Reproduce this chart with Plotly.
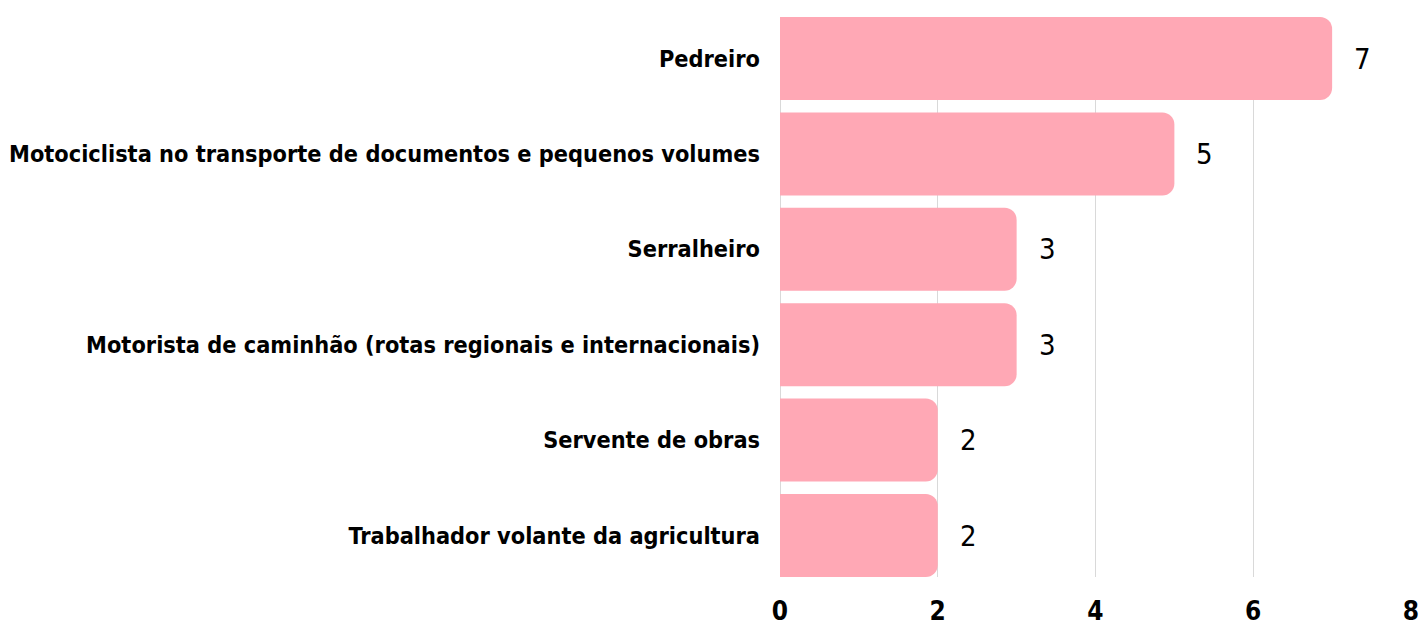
import plotly.graph_objects as go

categories = [
    "Pedreiro",
    "Motociclista no transporte de documentos e pequenos volumes",
    "Serralheiro",
    "Motorista de caminhão (rotas regionais e internacionais)",
    "Servente de obras",
    "Trabalhador volante da agricultura",
]
values = [7, 5, 3, 3, 2, 2]
tick_vals = [0, 2, 4, 6, 8]

FONT = "Liberation Sans Narrow, DejaVu Sans Condensed, Arial Narrow, sans-serif"
BAR = "#FFA8B5"
GAP = 0.13

fig = go.Figure(
    go.Bar(
        x=values,
        y=categories,
        orientation="h",
        marker=dict(color=BAR, line=dict(width=0)),
        width=1 - GAP,
        hoverinfo="skip",
    )
)

for c, v in zip(categories, values):
    fig.add_annotation(
        x=v, y=c, text=str(v), showarrow=False, xanchor="left", xshift=20,
        font=dict(family=FONT, size=29, color="#000000"),
    )

fig.update_layout(
    width=1422, height=626,
    margin=dict(l=780, r=11, t=17, b=49),
    paper_bgcolor="white", plot_bgcolor="white",
    barcornerradius=12,
    showlegend=False,
    font=dict(family=FONT),
)
fig.update_xaxes(
    range=[0, 8], tickvals=tick_vals, showgrid=True, gridcolor="#D9D9D9", gridwidth=1,
    zeroline=True, zerolinecolor="#D9D9D9", zerolinewidth=1,
    tickfont=dict(family=FONT, size=26, color="#000000", weight="bold"),
    ticklabelstandoff=16, showline=False, automargin=False,
)
fig.update_yaxes(
    categoryorder="array", categoryarray=categories[::-1],
    range=[-0.5 + GAP / 2, len(categories) - 0.5 - GAP / 2],
    tickfont=dict(family=FONT, size=23.3, color="#000000", weight="bold"),
    ticklabelstandoff=19, showgrid=False, showline=False, automargin=False,
)

fig.write_html(
    "out.html",
    config={"displayModeBar": False},
    post_script="document.body.style.margin='0';document.body.style.overflow='hidden';",
)
